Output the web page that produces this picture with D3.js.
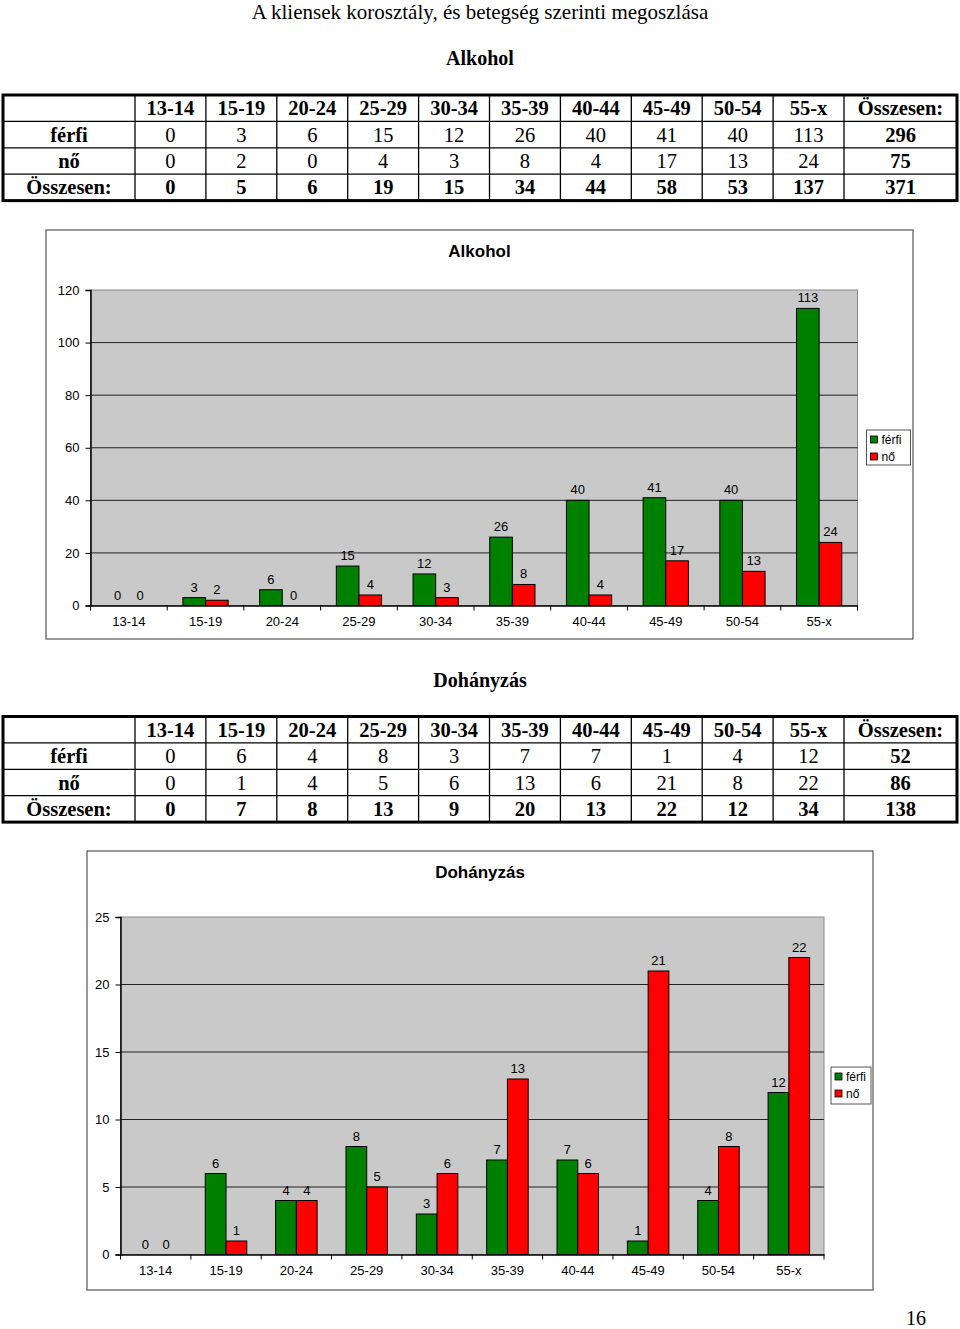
<!DOCTYPE html>
<html>
<head>
<meta charset="utf-8">
<script src="https://cdn.jsdelivr.net/npm/d3@7"></script>
<style>
  body { margin: 0; background: #fff; }
  svg { display: block; }
</style>
</head>
<body>
<svg id="page" width="960" height="1329"></svg>
<script>
// data
const ageGroups = ["13-14", "15-19", "20-24", "25-29", "30-34", "35-39", "40-44", "45-49", "50-54", "55-x"];
const seriesNames = ["férfi", "nő"];

const alkoholFerfi = [0, 3, 6, 15, 12, 26, 40, 41, 40, 113];
const alkoholNo = [0, 2, 0, 4, 3, 8, 4, 17, 13, 24];
const alkoholOsszesen = [0, 5, 6, 19, 15, 34, 44, 58, 53, 137];
const alkoholSum = [296, 75, 371];
const alkoholTicks = [0, 20, 40, 60, 80, 100, 120];

const dohanyFerfi = [0, 6, 4, 8, 3, 7, 7, 1, 4, 12];
const dohanyNo = [0, 1, 4, 5, 6, 13, 6, 21, 8, 22];
const dohanyOsszesen = [0, 7, 8, 13, 9, 20, 13, 22, 12, 34];
const dohanySum = [52, 86, 138];
const dohanyTicks = [0, 5, 10, 15, 20, 25];

const green = "#008000";
const red = "#ff0000";
const serif = "'Liberation Serif', 'Times New Roman', serif";
const sans = "'Liberation Sans', Arial, sans-serif";

let svg = d3.select("#page");

// page headings
svg.append("text")
  .attr("x", 480).attr("y", 19)
  .attr("text-anchor", "middle")
  .style("font-family", serif)
  .style("font-size", "21px")
  .text("A kliensek korosztály, és betegség szerinti megoszlása");

addHeading(svg, 65, "Alkohol");
drawTable(svg, 95, alkoholFerfi, alkoholNo, alkoholOsszesen, alkoholSum);
drawChart(svg, {
  title: "Alkohol",
  box: [46, 230, 913, 639],
  plot: [90.5, 857.5, 290, 605.5],
  max: 120,
  ticks: alkoholTicks,
  legend: [866.5, 430, 44, 35],
  ferfi: alkoholFerfi,
  no: alkoholNo
});

addHeading(svg, 687, "Dohányzás");
drawTable(svg, 716.5, dohanyFerfi, dohanyNo, dohanyOsszesen, dohanySum);
drawChart(svg, {
  title: "Dohányzás",
  box: [87, 851, 873, 1290],
  plot: [120.5, 824, 917, 1254.5],
  max: 25,
  ticks: dohanyTicks,
  legend: [831, 1067, 40, 37],
  ferfi: dohanyFerfi,
  no: dohanyNo
});

// page number
svg.append("text")
  .attr("x", 926).attr("y", 1325)
  .attr("text-anchor", "end")
  .style("font-family", serif)
  .style("font-size", "20px")
  .text("16");

function addHeading(svg, y, text) {
  svg.append("text")
    .attr("x", 480).attr("y", y)
    .attr("text-anchor", "middle")
    .style("font-family", serif)
    .style("font-weight", "bold")
    .style("font-size", "20px")
    .text(text);
}

function drawTable(svg, top, ferfi, no, total, sums) {
  let rowH = 26.4;
  let left = 3, right = 957;
  let col = d3.scaleBand().domain(ageGroups).range([135, 844]);

  let rows = [
    [""].concat(ageGroups, ["Összesen:"]),
    ["férfi"].concat(ferfi, [sums[0]]),
    ["nő"].concat(no, [sums[1]]),
    ["Összesen:"].concat(total, [sums[2]])
  ];
  let edges = [left].concat(ageGroups.map(d => col(d)), [844, right]);

  let g = svg.append("g");

  // inner lines
  edges.slice(1, -1).forEach(x => {
    g.append("line")
      .attr("x1", x).attr("x2", x)
      .attr("y1", top).attr("y2", top + rowH * 4)
      .style("stroke", "#000").style("stroke-width", 1.3);
  });
  for (let r = 1; r < 4; r++) {
    g.append("line")
      .attr("x1", left).attr("x2", right)
      .attr("y1", top + rowH * r).attr("y2", top + rowH * r)
      .style("stroke", "#000").style("stroke-width", 1.3);
  }
  g.append("rect")
    .attr("x", left).attr("y", top)
    .attr("width", right - left).attr("height", rowH * 4)
    .style("fill", "none").style("stroke", "#000").style("stroke-width", 3);

  rows.forEach((row, r) => {
    row.forEach((cell, c) => {
      let bold = r == 0 || r == 3 || c == 0 || c == row.length - 1;
      g.append("text")
        .attr("x", (edges[c] + edges[c + 1]) / 2)
        .attr("y", top + rowH * r + rowH / 2 + 7)
        .attr("text-anchor", "middle")
        .style("font-family", serif)
        .style("font-size", "20.5px")
        .style("font-weight", bold ? "bold" : "normal")
        .text(cell);
    });
  });
}

function drawChart(svg, cfg) {
  let [bx0, by0, bx1, by1] = cfg.box;
  let [px0, px1, py0, py1] = cfg.plot;

  let g = svg.append("g");

  // chart frame
  g.append("rect")
    .attr("x", bx0).attr("y", by0)
    .attr("width", bx1 - bx0).attr("height", by1 - by0)
    .style("fill", "#fff").style("stroke", "#555").style("stroke-width", 1.2);

  g.append("text")
    .attr("x", (bx0 + bx1) / 2).attr("y", by0 + 27)
    .attr("text-anchor", "middle")
    .style("font-family", sans)
    .style("font-weight", "bold")
    .style("font-size", "17px")
    .text(cfg.title);

  let x = d3.scaleBand().domain(ageGroups).range([px0, px1]);
  let y = d3.scaleLinear().domain([0, cfg.max]).range([py1, py0]);
  let bw = x.bandwidth() * 0.295;

  // plot area
  g.append("rect")
    .attr("x", px0).attr("y", py0)
    .attr("width", px1 - px0).attr("height", py1 - py0)
    .style("fill", "#c9c9c9").style("stroke", "#8a8a8a").style("stroke-width", 1);

  // gridlines
  g.selectAll(".grid")
    .data(cfg.ticks.filter(t => t > 0 && t < cfg.max))
    .enter().append("line")
    .attr("x1", px0).attr("x2", px1)
    .attr("y1", d => y(d)).attr("y2", d => y(d))
    .style("stroke", "#222").style("stroke-width", 1);

  // y axis
  let yAxis = g.append("g")
    .attr("transform", "translate(" + px0 + ",0)")
    .call(d3.axisLeft(y).tickValues(cfg.ticks).tickSize(5).tickPadding(6));
  yAxis.select(".domain").style("stroke", "#000").style("stroke-width", 1.5);
  yAxis.selectAll(".tick line").style("stroke", "#000");
  yAxis.selectAll("text")
    .style("font-family", sans).style("font-size", "13px").style("fill", "#000");

  // x axis: labels in the middle, ticks between categories
  let xAxis = g.append("g")
    .attr("transform", "translate(0," + py1 + ")")
    .call(d3.axisBottom(x).tickSize(0).tickPadding(11));
  xAxis.select(".domain").style("stroke", "#000").style("stroke-width", 1.5);
  xAxis.selectAll("text")
    .style("font-family", sans).style("font-size", "13px").style("fill", "#000");
  g.selectAll(".xtick")
    .data(ageGroups.map(d => x(d)).concat([px1]))
    .enter().append("line")
    .attr("x1", d => d).attr("x2", d => d)
    .attr("y1", py1).attr("y2", py1 + 5)
    .style("stroke", "#000").style("stroke-width", 1);

  // bars: ferfi left of the category centre, no right of it
  let series = [
    { values: cfg.ferfi, color: green, dx: -bw },
    { values: cfg.no, color: red, dx: 0 }
  ];
  series.forEach(s => {
    let pts = s.values.map((v, i) => ({ v: v, cat: ageGroups[i] }));
    g.selectAll(null)
      .data(pts.filter(p => p.v > 0))
      .enter().append("rect")
      .attr("x", p => x(p.cat) + x.bandwidth() / 2 + s.dx)
      .attr("y", p => y(p.v))
      .attr("width", bw)
      .attr("height", p => y(0) - y(p.v))
      .style("fill", s.color).style("stroke", "#000").style("stroke-width", 1);
    g.selectAll(null)
      .data(pts)
      .enter().append("text")
      .attr("x", p => x(p.cat) + x.bandwidth() / 2 + s.dx + bw / 2)
      .attr("y", p => y(p.v) - 6)
      .attr("text-anchor", "middle")
      .style("font-family", sans).style("font-size", "13px")
      .text(p => p.v);
  });

  // legend
  let [lx, ly, lw, lh] = cfg.legend;
  g.append("rect")
    .attr("x", lx).attr("y", ly).attr("width", lw).attr("height", lh)
    .style("fill", "#fff").style("stroke", "#555").style("stroke-width", 1);
  [green, red].forEach((c, i) => {
    g.append("rect")
      .attr("x", lx + 4).attr("y", ly + 6 + i * 17)
      .attr("width", 7).attr("height", 7)
      .style("fill", c).style("stroke", "#000").style("stroke-width", 0.8);
    g.append("text")
      .attr("x", lx + 15).attr("y", ly + 14 + i * 17)
      .style("font-family", sans).style("font-size", "12px")
      .text(seriesNames[i]);
  });
}
</script>
</body>
</html>
